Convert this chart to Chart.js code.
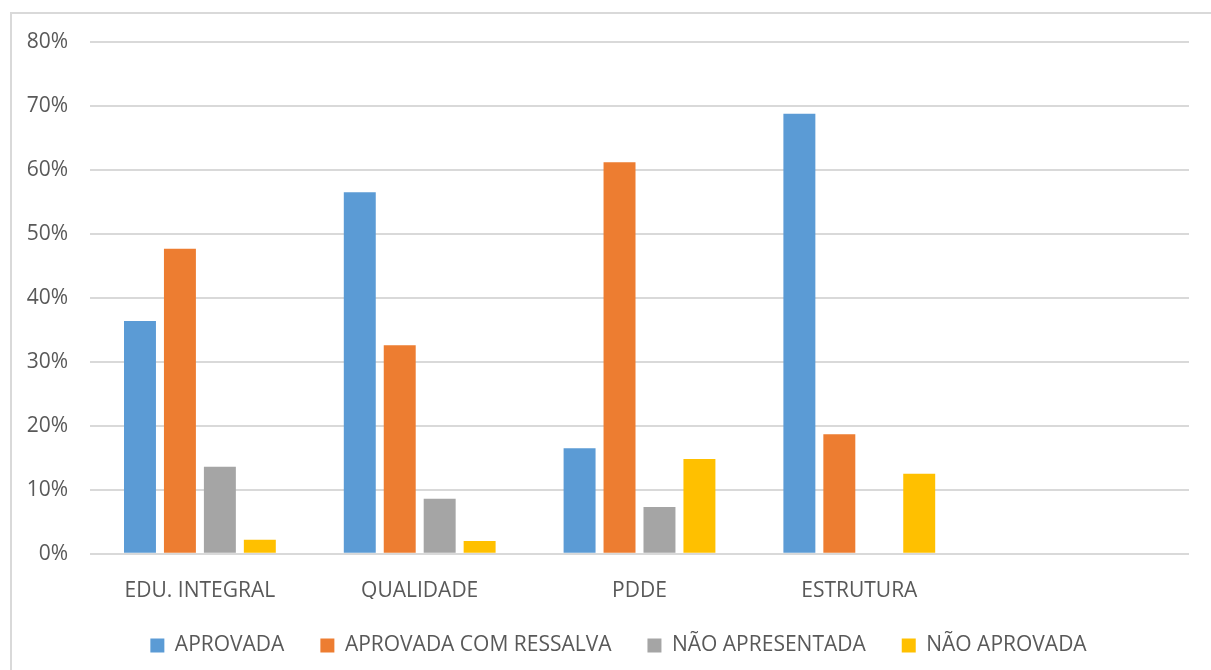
<!DOCTYPE html>
<html>
<head>
<meta charset="utf-8">
<script src="https://cdn.jsdelivr.net/npm/chart.js@4/dist/chart.umd.min.js"></script>
<style>
  html, body { margin: 0; padding: 0; background: #fff; overflow: hidden; }
  #frame { position: absolute; left: 10px; top: 12px; width: 1400px; height: 800px; border: 2px solid #d9d9d9; }
  #wrap { position: absolute; left: 0; top: 0; width: 1211px; height: 670px; }
</style>
</head>
<body>
<div id="frame"></div>
<div id="wrap"><canvas id="chart"></canvas></div>
<script>
// ===== Prestação de contas por programa =====
const categories = ["EDU. INTEGRAL", "QUALIDADE", "PDDE", "ESTRUTURA", ""];
const aprovada = [36.4, 56.5, 16.5, 68.8, null];
const aprovadaRessalva = [47.7, 32.6, 61.2, 18.7, null];
const naoApresentada = [13.6, 8.6, 7.3, null, null];
const naoAprovada = [2.2, 2.0, 14.8, 12.5, null];
const yTicks = [0, 10, 20, 30, 40, 50, 60, 70, 80];

const textColor = "#595959";
const fontFamily = "'Open Sans', 'Liberation Sans', sans-serif";

const ctx = document.getElementById("chart").getContext("2d");

// nudge the legend a bit right, like the original
const legendShift = {
  id: "legendShift",
  afterLayout(chart) {
    chart.legend.left += 24;
    chart.legend.right += 24;
  },
};

new Chart(ctx, {
  type: "bar",
  data: {
    labels: categories,
    datasets: [
      { label: "APROVADA", data: aprovada, backgroundColor: "#5b9bd5" },
      { label: "APROVADA COM RESSALVA", data: aprovadaRessalva, backgroundColor: "#ed7d31" },
      { label: "NÃO APRESENTADA", data: naoApresentada, backgroundColor: "#a5a5a5" },
      { label: "NÃO APROVADA", data: naoAprovada, backgroundColor: "#ffc000" },
    ],
  },
  options: {
    responsive: true,
    maintainAspectRatio: false,
    animation: false,
    categoryPercentage: 0.727,
    barPercentage: 0.8,
    layout: { padding: { top: 42, right: 22, left: 0, bottom: 4 } },
    plugins: {
      tooltip: { enabled: false },
      legend: {
        position: "bottom",
        labels: {
          color: textColor,
          font: { family: fontFamily, size: 21 },
          boxWidth: 14,
          boxHeight: 14,
          padding: 36,
        },
      },
    },
    scales: {
      x: {
        grid: { display: false },
        border: { display: false },
        // let the plot run down into the legend's top padding
        // (more than ~22 clips the tail of the Q)
        afterFit: (axis) => { axis.height -= 22; },
        ticks: {
          color: textColor,
          font: { family: fontFamily, size: 21 },
          padding: 17,
          maxRotation: 0,
        },
      },
      y: {
        min: 0,
        max: 80,
        afterBuildTicks: (axis) => { axis.ticks = yTicks.map(v => ({ value: v })); },
        afterFit: (axis) => { axis.width = 90; },
        grid: { color: "#d9d9d9", lineWidth: 2, drawTicks: false },
        border: { display: false },
        ticks: {
          color: textColor,
          font: { family: fontFamily, size: 21 },
          padding: 22,
          callback: (v) => v + "%",
        },
      },
    },
  },
  plugins: [legendShift],
});
</script>
</body>
</html>
